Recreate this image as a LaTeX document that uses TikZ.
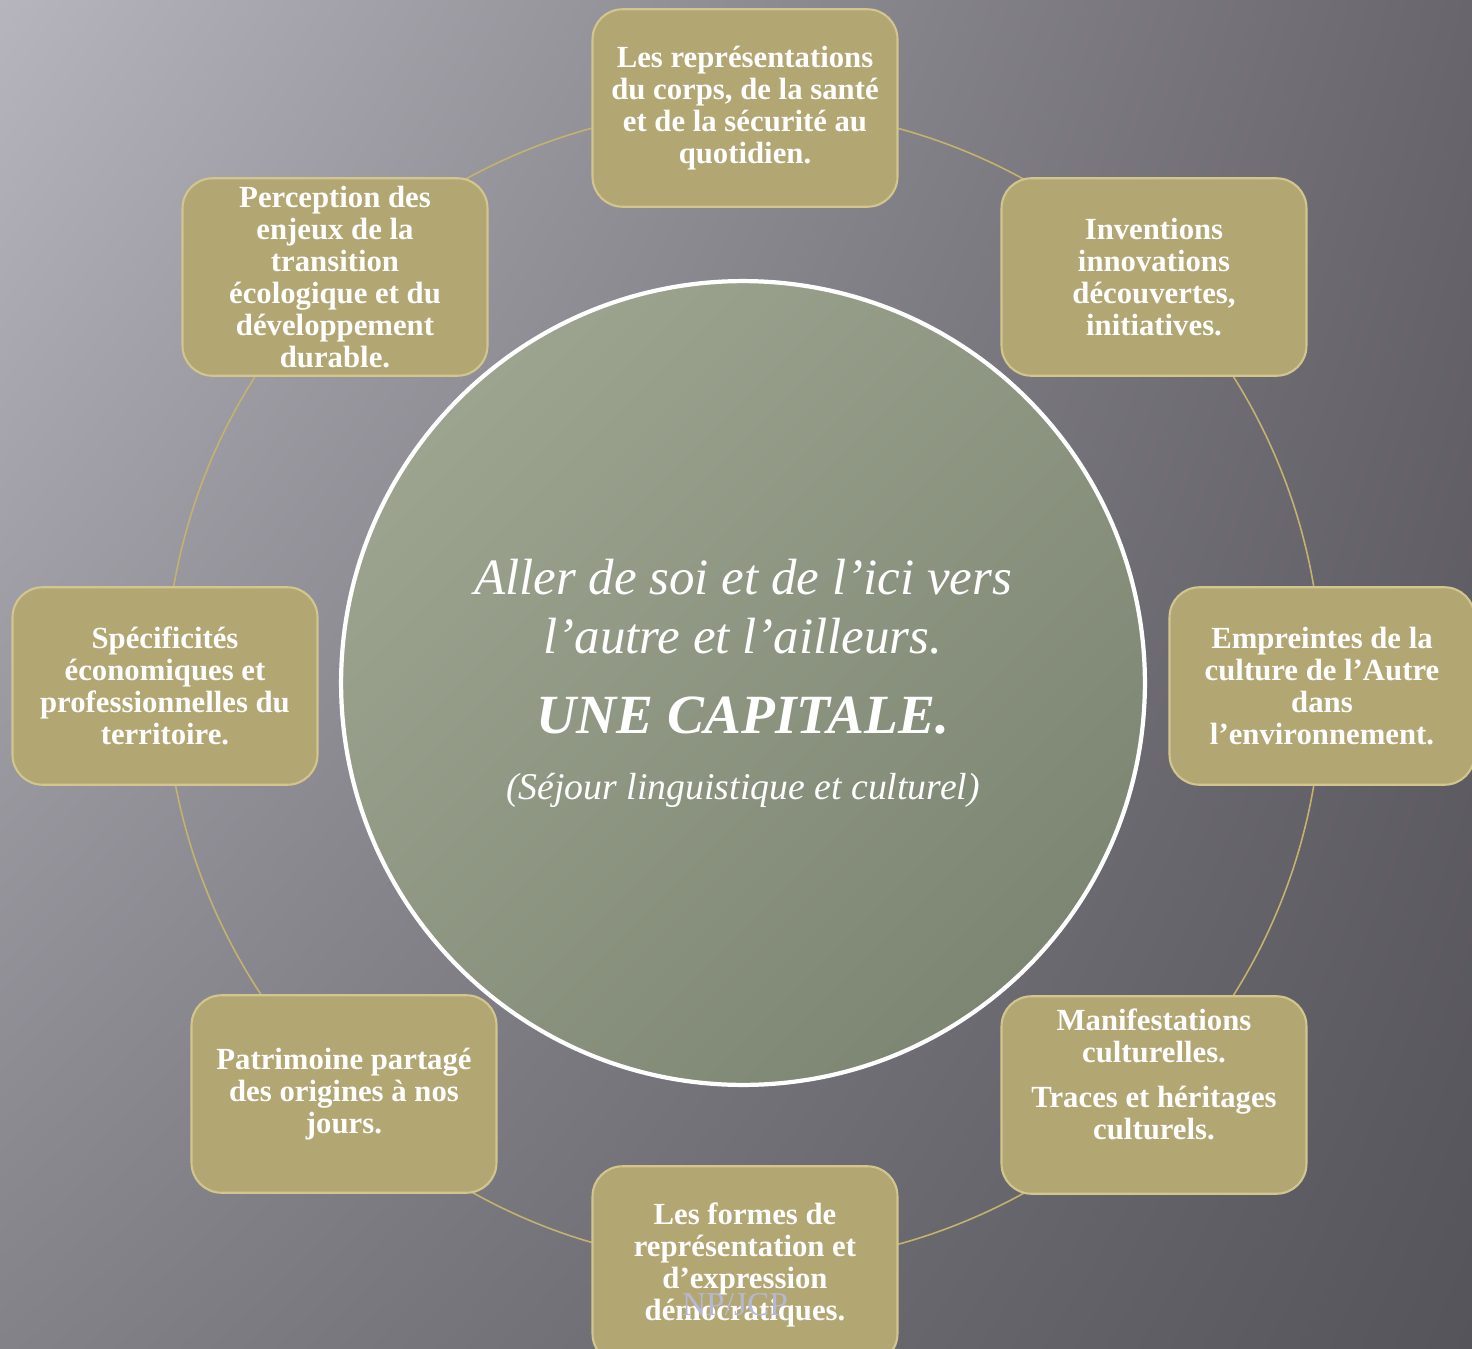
\documentclass[tikz,border=0pt]{standalone}
\usepackage{fontspec}
\setmainfont{Liberation Serif}
\usepackage{tikz}
\usetikzlibrary{positioning, shadings}
\definecolor{bgUL}{RGB}{182,180,188}
\definecolor{bgUR}{RGB}{104,102,108}
\definecolor{bgLL}{RGB}{132,130,137}
\definecolor{bgLR}{RGB}{86,84,91}
\definecolor{hubLight}{RGB}{156,164,144}
\definecolor{hubDark}{RGB}{125,134,114}
\definecolor{boxGold}{RGB}{178,166,115}
\definecolor{boxRim}{RGB}{210,198,142}
\definecolor{ringGold}{RGB}{196,178,110}
\definecolor{stampGray}{RGB}{182,184,208}
\pgfdeclarelayer{back}
\pgfdeclarelayer{wire}
\pgfsetlayers{back,wire,main}
\tikzstyle{topic} = [rectangle, rounded corners=0.6cm, minimum width=6.1cm, minimum height=3.95cm, text width=5.8cm, align=flush center, draw=boxRim, line width=1.2pt, fill=boxGold, text=white, font=\bfseries\fontsize{17.5}{18.2}\selectfont]
\tikzstyle{hub} = [circle, minimum size=16.08cm, inner sep=0pt, draw=white, line width=2.4pt, left color=hubLight, right color=hubDark, shading angle=45, text=white, text width=13cm, align=flush center]
\tikzstyle{ringline} = [draw=ringGold, line width=0.9pt, bend left=22.5, looseness=0.89]
\tikzstyle{stamp} = [text=stampGray, font=\fontsize{19}{19}\selectfont]

\begin{document}
\begin{tikzpicture}[x=0.02cm, y=-0.02cm]
				\useasboundingbox (0,0) rectangle (1472,1349);
				\begin{pgfonlayer}{back}
					\shade[upper left=bgUL, upper right=bgUR, lower left=bgLL, lower right=bgLR] (0,0) rectangle (1472,1349);
				\end{pgfonlayer}
				
				\node (hub) [hub] at (743,683) {%
					{\itshape\fontsize{29}{33.5}\selectfont Aller de soi et de l’ici vers\\ l’autre et l’ailleurs.\par}
					{\bfseries\itshape\fontsize{31.5}{46}\selectfont UNE CAPITALE.\par}
					{\itshape\fontsize{21.5}{37}\selectfont (Séjour linguistique et culturel)\par}};
				
				\node (top) [topic] at (745,108) {Les représentations\\ du corps, de la santé\\ et de la sécurité au\\ quotidien.};
				\node (topright) [topic] at (1154,277) {Inventions\\ innovations\\ découvertes,\\ initiatives.};
				\node (right) [topic] at (1322,686) {Empreintes de la\\ culture de l’Autre\\ dans\\ l’environnement.};
				\node (botright) [topic] at (1154,1095) {Manifestations\\ culturelles.\\[0.25cm] Traces et héritages\\ culturels.\\ \strut};
				\node (bottom) [topic] at (745,1265) {Les formes de\\ représentation et\\ d’expression\\ démocratiques.};
				\node (botleft) [topic] at (344,1094) {Patrimoine partagé\\ des origines à nos\\ jours.};
				\node (left) [topic] at (165,686) {Spécificités\\ économiques et\\ professionnelles du\\ territoire.};
				\node (topleft) [topic] at (335,277) {Perception des\\ enjeux de la\\ transition\\ écologique et du\\ développement\\ durable.};
				\node (mark) [stamp] at (735,1305) {NP/JCP};
				
				% Ring
				\begin{pgfonlayer}{wire}
					\draw [ringline] (top.center) to (topright.center);
					\draw [ringline] (topright.center) to (right.center);
					\draw [ringline] (right.center) to (botright.center);
					\draw [ringline] (botright.center) to (bottom.center);
					\draw [ringline] (bottom.center) to (botleft.center);
					\draw [ringline] (botleft.center) to (left.center);
					\draw [ringline] (left.center) to (topleft.center);
					\draw [ringline] (topleft.center) to (top.center);
				\end{pgfonlayer}
			\end{tikzpicture}
\end{document}
